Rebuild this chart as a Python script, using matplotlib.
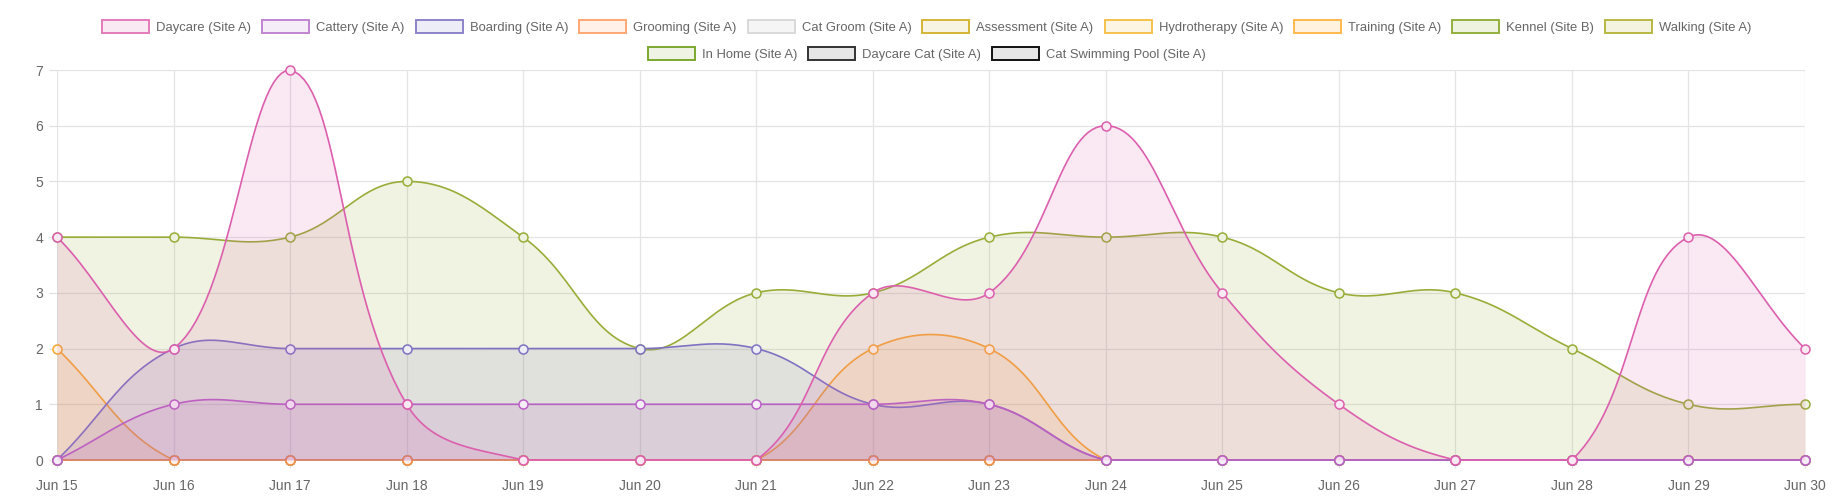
import numpy as np
import matplotlib
matplotlib.use("Agg")
import matplotlib.pyplot as plt
from matplotlib.patches import Patch

plt.rcParams['font.family'] = ['Liberation Sans', 'DejaVu Sans']

# Data: daily booking counts, Jun 15 - Jun 30
days = ["Jun 15", "Jun 16", "Jun 17", "Jun 18", "Jun 19", "Jun 20", "Jun 21", "Jun 22",
        "Jun 23", "Jun 24", "Jun 25", "Jun 26", "Jun 27", "Jun 28", "Jun 29", "Jun 30"]

daycare = [4, 2, 7, 1, 0, 0, 0, 3, 3, 6, 3, 1, 0, 0, 4, 2]
cattery = [0, 1, 1, 1, 1, 1, 1, 1, 1, 0, 0, 0, 0, 0, 0, 0]
boarding = [0, 2, 2, 2, 2, 2, 2, 1, 1, 0, 0, 0, 0, 0, 0, 0]
grooming = [0] * 16
cat_groom = [0] * 16
assessment = [0] * 16
hydrotherapy = [0] * 16
training = [2, 0, 0, 0, 0, 0, 0, 2, 2, 0, 0, 0, 0, 0, 0, 0]
kennel_b = [4, 4, 4, 5, 4, 2, 3, 3, 4, 4, 4, 3, 3, 2, 1, 1]
walking = [0] * 16
in_home = [0] * 16
daycare_cat = [0] * 16
cat_pool = [0] * 16

labels = ["Daycare (Site A)", "Cattery (Site A)", "Boarding (Site A)", "Grooming (Site A)",
          "Cat Groom (Site A)", "Assessment (Site A)", "Hydrotherapy (Site A)", "Training (Site A)",
          "Kennel (Site B)", "Walking (Site A)", "In Home (Site A)", "Daycare Cat (Site A)",
          "Cat Swimming Pool (Site A)"]
series = [daycare, cattery, boarding, grooming, cat_groom, assessment, hydrotherapy,
          training, kennel_b, walking, in_home, daycare_cat, cat_pool]
line_colors = ["#dc5fae", "#b862c4", "#7f72c2", "#f58a3c", "#d0d0d0", "#cfb12c", "#f2bb3f",
               "#f5a833", "#98ad38", "#b3b33a", "#7ea52c", "#333333", "#111111"]
box_edges = ["#e47cbc", "#c285d2", "#8c84c9", "#ffa675", "#d9d9d9", "#d4b636", "#f5c24c",
             "#ffb94d", "#93b03e", "#b8b842", "#7ca82e", "#333333", "#111111"]
box_faces = ["#f9e9f3", "#f5edf8", "#ededf7", "#fff0e8", "#f5f5f5", "#f7f4e4", "#fdf5e3",
             "#fff3e0", "#eef3e0", "#f3f3e0", "#eef3e3", "#e6e6e6", "#e6e6e6"]

W, H = 1835, 501
fig = plt.figure(figsize=(W / 100, H / 100), dpi=100)
left, right, bottom, top = 57, 1805, 460, 70
ax = fig.add_axes([left / W, 1 - bottom / H, (right - left) / W, (bottom - top) / H])

x = np.arange(len(days))
ymax = 7
sx = (right - left) / (len(days) - 1)
sy = (bottom - top) / ymax


def smooth(xv, yv, t=0.4, n=30):
    # bezier curve with tension, control points computed in pixel space
    px = np.asarray(xv, float) * sx
    py = np.asarray(yv, float) * sy
    m = len(px)
    c1 = np.zeros((m, 2))
    c2 = np.zeros((m, 2))
    for i in range(m):
        p = max(i - 1, 0)
        q = min(i + 1, m - 1)
        d01 = np.hypot(px[i] - px[p], py[i] - py[p])
        d12 = np.hypot(px[q] - px[i], py[q] - py[i])
        tot = d01 + d12
        s01 = d01 / tot if tot else 0
        s12 = d12 / tot if tot else 0
        dx, dy = px[q] - px[p], py[q] - py[p]
        c1[i] = [px[i] - t * s01 * dx, py[i] - t * s01 * dy]
        c2[i] = [px[i] + t * s12 * dx, py[i] + t * s12 * dy]
    c1[:, 0] = np.clip(c1[:, 0], 0, px[-1])
    c2[:, 0] = np.clip(c2[:, 0], 0, px[-1])
    c1[:, 1] = np.clip(c1[:, 1], 0, ymax * sy)
    c2[:, 1] = np.clip(c2[:, 1], 0, ymax * sy)
    u = np.linspace(0, 1, n)[:, None]
    out = []
    for i in range(m - 1):
        P0 = np.array([px[i], py[i]])
        P3 = np.array([px[i + 1], py[i + 1]])
        seg = ((1 - u) ** 3 * P0 + 3 * (1 - u) ** 2 * u * c2[i]
               + 3 * (1 - u) * u ** 2 * c1[i + 1] + u ** 3 * P3)
        out.append(seg if i == 0 else seg[1:])
    out = np.vstack(out)
    return out[:, 0] / sx, out[:, 1] / sy


n = len(series)
for k in range(n - 1, -1, -1):
    z = 2 + (n - k) * 3
    cx, cy = smooth(x, series[k])
    ax.fill_between(cx, 0, cy, color=line_colors[k], alpha=0.14, linewidth=0, zorder=z)
    ax.plot(cx, cy, color=line_colors[k], lw=1.2, zorder=z + 1, clip_on=False)
    ax.plot(x, series[k], linestyle="none", marker="o", markersize=6.5,
            markerfacecolor=box_faces[k], markeredgecolor=line_colors[k],
            markeredgewidth=1.1, zorder=z + 2, clip_on=False)

ax.set_xlim(0, len(days) - 1)
ax.set_ylim(0, ymax)
ax.set_xticks(x)
ax.set_xticklabels(days)
ax.set_yticks(range(0, ymax + 1))
ax.grid(True, color="#e4e4e4", linewidth=0.9)
ax.set_axisbelow(True)
for s in ax.spines.values():
    s.set_visible(False)
ax.tick_params(axis="both", colors="#e0e0e0", labelcolor="#666666", labelsize=10,
               length=6, width=0.9)
ax.tick_params(axis="x", pad=8)
ax.tick_params(axis="y", pad=4)

leg_size = 9.4
fs_px = leg_size * 100 / 72
handles = [Patch(facecolor=box_faces[k], edgecolor=box_edges[k], linewidth=1.4) for k in range(n)]
common = dict(frameon=False, fontsize=leg_size, labelcolor="#666666",
              handlelength=47 / fs_px, handleheight=15 / fs_px, handletextpad=7 / fs_px,
              columnspacing=11 / fs_px, borderpad=0, borderaxespad=0)
fig.legend(handles[:10], labels[:10], ncol=10, loc="center",
           bbox_to_anchor=(927 / W, 1 - 27 / H), **common)
fig.legend(handles[10:], labels[10:], ncol=3, loc="center",
           bbox_to_anchor=(927 / W, 1 - 54 / H), **common)

fig.savefig("out.png", dpi=100)
